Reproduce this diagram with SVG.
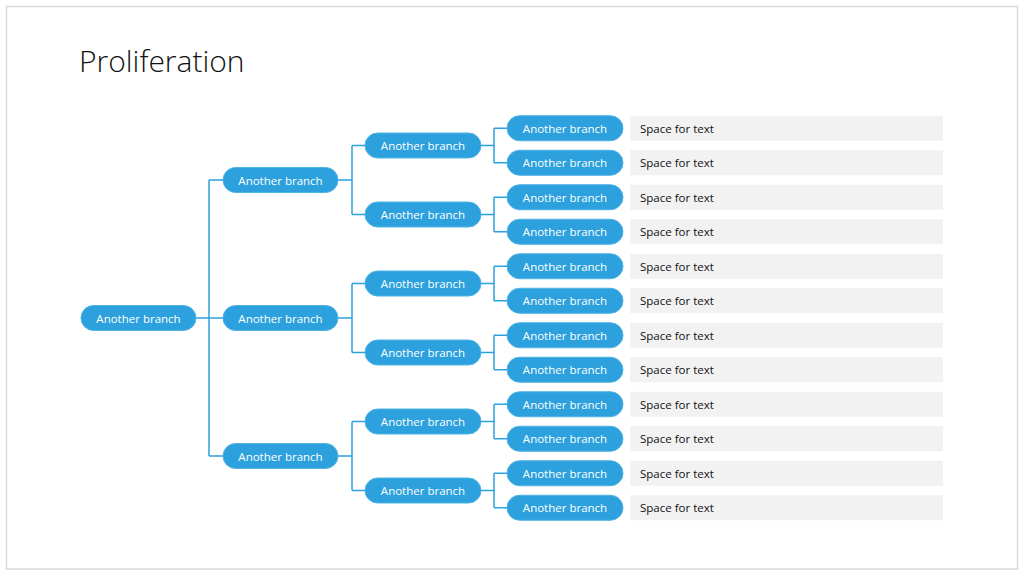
<svg xmlns="http://www.w3.org/2000/svg" width="1024" height="576" viewBox="0 0 1024 576">
<style>
.n rect{fill:#2ca1dd;stroke:#4fb3e6;stroke-width:1}
.n text{fill:#fff;font-family:"Open Sans","Noto Sans",sans-serif;font-size:11.5px;text-anchor:middle;dominant-baseline:central}
.t rect{fill:#f2f2f2}
.t text{fill:#111;font-family:"Open Sans","Noto Sans",sans-serif;font-size:11.5px;dominant-baseline:central}
.c path{fill:none;stroke:#2ca1dd;stroke-width:1.5}
</style>
<rect x="0" y="0" width="1024" height="576" fill="#fff"/>
<rect x="6.5" y="6.5" width="1011" height="562.5" fill="#fff" stroke="#d9d9d9" stroke-width="1.5"/>
<text x="79" y="72" font-family="Open Sans, Noto Sans, sans-serif" font-weight="300" font-size="30" fill="#111">Proliferation</text>
<g class="c">
<path d="M196 318H223M209 180V456M209 180H223M209 456H223"/>
<path d="M338 180H352M352 145.5V214.5M352 145.5H365M352 214.5H365"/>
<path d="M338 318H352M352 283.5V352.5M352 283.5H365M352 352.5H365"/>
<path d="M338 456H352M352 421.5V490.5M352 421.5H365M352 490.5H365"/>
<path d="M481 145.5H494M494 128.25V162.75M494 128.25H507M494 162.75H507"/>
<path d="M481 214.5H494M494 197.25V231.75M494 197.25H507M494 231.75H507"/>
<path d="M481 283.5H494M494 266.25V300.75M494 266.25H507M494 300.75H507"/>
<path d="M481 352.5H494M494 335.25V369.75M494 335.25H507M494 369.75H507"/>
<path d="M481 421.5H494M494 404.25V438.75M494 404.25H507M494 438.75H507"/>
<path d="M481 490.5H494M494 473.25V507.75M494 473.25H507M494 507.75H507"/>
</g>
<g id="n0" class="n"><rect x="81" y="305.5" width="115" height="25" rx="12.5"/><text x="138.5" y="318">Another branch</text></g>
<g id="n1a" class="n"><rect x="223" y="167.5" width="115" height="25" rx="12.5"/><text x="280.5" y="180">Another branch</text></g>
<g id="n1b" class="n"><rect x="223" y="305.5" width="115" height="25" rx="12.5"/><text x="280.5" y="318">Another branch</text></g>
<g id="n1c" class="n"><rect x="223" y="443.5" width="115" height="25" rx="12.5"/><text x="280.5" y="456">Another branch</text></g>
<g id="n2a" class="n"><rect x="365" y="133" width="116" height="25" rx="12.5"/><text x="423" y="145.5">Another branch</text></g>
<g id="n2b" class="n"><rect x="365" y="202" width="116" height="25" rx="12.5"/><text x="423" y="214.5">Another branch</text></g>
<g id="n2c" class="n"><rect x="365" y="271" width="116" height="25" rx="12.5"/><text x="423" y="283.5">Another branch</text></g>
<g id="n2d" class="n"><rect x="365" y="340" width="116" height="25" rx="12.5"/><text x="423" y="352.5">Another branch</text></g>
<g id="n2e" class="n"><rect x="365" y="409" width="116" height="25" rx="12.5"/><text x="423" y="421.5">Another branch</text></g>
<g id="n2f" class="n"><rect x="365" y="478" width="116" height="25" rx="12.5"/><text x="423" y="490.5">Another branch</text></g>
<g id="n3a" class="n"><rect x="507" y="115.75" width="116" height="25" rx="12.5"/><text x="565" y="128.25">Another branch</text></g>
<g id="n3b" class="n"><rect x="507" y="150.25" width="116" height="25" rx="12.5"/><text x="565" y="162.75">Another branch</text></g>
<g id="n3c" class="n"><rect x="507" y="184.75" width="116" height="25" rx="12.5"/><text x="565" y="197.25">Another branch</text></g>
<g id="n3d" class="n"><rect x="507" y="219.25" width="116" height="25" rx="12.5"/><text x="565" y="231.75">Another branch</text></g>
<g id="n3e" class="n"><rect x="507" y="253.75" width="116" height="25" rx="12.5"/><text x="565" y="266.25">Another branch</text></g>
<g id="n3f" class="n"><rect x="507" y="288.25" width="116" height="25" rx="12.5"/><text x="565" y="300.75">Another branch</text></g>
<g id="n3g" class="n"><rect x="507" y="322.75" width="116" height="25" rx="12.5"/><text x="565" y="335.25">Another branch</text></g>
<g id="n3h" class="n"><rect x="507" y="357.25" width="116" height="25" rx="12.5"/><text x="565" y="369.75">Another branch</text></g>
<g id="n3i" class="n"><rect x="507" y="391.75" width="116" height="25" rx="12.5"/><text x="565" y="404.25">Another branch</text></g>
<g id="n3j" class="n"><rect x="507" y="426.25" width="116" height="25" rx="12.5"/><text x="565" y="438.75">Another branch</text></g>
<g id="n3k" class="n"><rect x="507" y="460.75" width="116" height="25" rx="12.5"/><text x="565" y="473.25">Another branch</text></g>
<g id="n3l" class="n"><rect x="507" y="495.25" width="116" height="25" rx="12.5"/><text x="565" y="507.75">Another branch</text></g>
<g id="t1" class="t"><rect x="630" y="115.75" width="313" height="25"/><text x="640" y="128.25">Space for text</text></g>
<g id="t2" class="t"><rect x="630" y="150.25" width="313" height="25"/><text x="640" y="162.75">Space for text</text></g>
<g id="t3" class="t"><rect x="630" y="184.75" width="313" height="25"/><text x="640" y="197.25">Space for text</text></g>
<g id="t4" class="t"><rect x="630" y="219.25" width="313" height="25"/><text x="640" y="231.75">Space for text</text></g>
<g id="t5" class="t"><rect x="630" y="253.75" width="313" height="25"/><text x="640" y="266.25">Space for text</text></g>
<g id="t6" class="t"><rect x="630" y="288.25" width="313" height="25"/><text x="640" y="300.75">Space for text</text></g>
<g id="t7" class="t"><rect x="630" y="322.75" width="313" height="25"/><text x="640" y="335.25">Space for text</text></g>
<g id="t8" class="t"><rect x="630" y="357.25" width="313" height="25"/><text x="640" y="369.75">Space for text</text></g>
<g id="t9" class="t"><rect x="630" y="391.75" width="313" height="25"/><text x="640" y="404.25">Space for text</text></g>
<g id="t10" class="t"><rect x="630" y="426.25" width="313" height="25"/><text x="640" y="438.75">Space for text</text></g>
<g id="t11" class="t"><rect x="630" y="460.75" width="313" height="25"/><text x="640" y="473.25">Space for text</text></g>
<g id="t12" class="t"><rect x="630" y="495.25" width="313" height="25"/><text x="640" y="507.75">Space for text</text></g>
</svg>
